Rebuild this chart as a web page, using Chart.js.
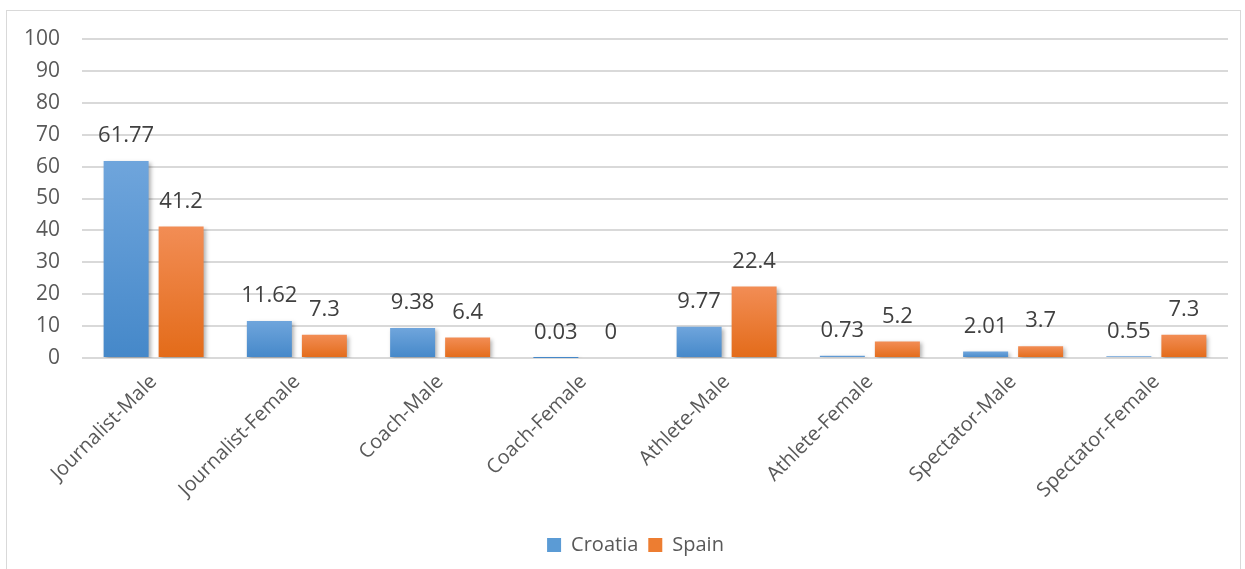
<!DOCTYPE html>
<html>
<head>
<meta charset="utf-8">
<script src="https://cdn.jsdelivr.net/npm/chart.js@4"></script>
<style>
  body { margin: 0; background: #fff; }
  #box {
    position: absolute; left: 6px; top: 10px;
    width: 1233px; height: 570px;
    border: 1px solid #d9d9d9; border-bottom: none;
  }
  #chart { display: block; }
</style>
</head>
<body>
<div id="box"><canvas id="chart" width="1233" height="558"></canvas></div>
<script>
const categories = ["Journalist-Male", "Journalist-Female", "Coach-Male", "Coach-Female",
    "Athlete-Male", "Athlete-Female", "Spectator-Male", "Spectator-Female"];
const croatia = [61.77, 11.62, 9.38, 0.03, 9.77, 0.73, 2.01, 0.55];
const spain = [41.2, 7.3, 6.4, 0, 22.4, 5.2, 3.7, 7.3];
const yTicks = [0, 10, 20, 30, 40, 50, 60, 70, 80, 90, 100];

const FONT = "'Open Sans', sans-serif";

// vertical gradient on each bar, lighter on top
function barGradient(top, bottom) {
    return (ctx) => {
        const chart = ctx.chart;
        const y = chart.scales.y;
        if (!y || ctx.parsed === undefined) return bottom;
        const y0 = y.getPixelForValue(0);
        const y1 = y.getPixelForValue(ctx.parsed.y);
        if (!isFinite(y1) || Math.abs(y0 - y1) < 1) return bottom;
        const g = chart.ctx.createLinearGradient(0, y1, 0, y0);
        g.addColorStop(0, top);
        g.addColorStop(1, bottom);
        return g;
    };
}

const valueLabels = {
    id: "valueLabels",
    afterDatasetsDraw(chart) {
        const ctx = chart.ctx;
        ctx.save();
        ctx.font = "22px " + FONT;
        ctx.fillStyle = "#404040";
        ctx.textAlign = "center";
        ctx.textBaseline = "middle";
        chart.data.datasets.forEach((ds, i) => {
            chart.getDatasetMeta(i).data.forEach((bar, j) => {
                ctx.fillText(String(ds.data[j]), bar.x, bar.y - 25);
            });
        });
        ctx.restore();
    }
};

const barShadow = {
    id: "barShadow",
    beforeDatasetsDraw(chart) {
        const ctx = chart.ctx;
        ctx.save();
        ctx.shadowColor = "rgba(0,0,0,0.3)";
        ctx.shadowBlur = 4;
        ctx.shadowOffsetX = 2;
        ctx.shadowOffsetY = 2;
    },
    afterDatasetsDraw(chart) {
        chart.ctx.restore();
    }
};

// legend sits a bit right of the canvas centre in the original
const legendShift = {
    id: "legendShift",
    afterLayout(chart) {
        chart.legend.left += 18;
        chart.legend.right += 18;
    }
};

new Chart(document.getElementById("chart"), {
    type: "bar",
    data: {
        labels: categories,
        datasets: [{
            label: "Croatia",
            data: croatia,
            backgroundColor: barGradient("#6fa5dc", "#4588c9"),
            categoryPercentage: 0.768,
            barPercentage: 0.818
        }, {
            label: "Spain",
            data: spain,
            backgroundColor: barGradient("#f28d55", "#e36b19"),
            categoryPercentage: 0.768,
            barPercentage: 0.818
        }]
    },
    options: {
        responsive: false,
        animation: false,
        layout: { padding: { top: 28, right: 12, left: 0, bottom: 4 } },
        scales: {
            x: {
                grid: { display: false },
                border: { display: false },
                ticks: {
                    font: { family: FONT, size: 20 },
                    color: "#595959",
                    maxRotation: 45,
                    minRotation: 45,
                    padding: 4
                },
                afterFit(s) { s.height = 167; }
            },
            y: {
                min: 0,
                max: 100,
                afterBuildTicks(s) { s.ticks = yTicks.map(v => ({ value: v })); },
                grid: { color: "#d9d9d9", lineWidth: 2, drawTicks: false },
                border: { display: false },
                ticks: {
                    font: { family: FONT, size: 21 },
                    color: "#595959",
                    padding: 22
                },
                afterFit(s) {
                    s.width = 75;
                    s.paddingTop = 0;
                    s.paddingBottom = 0;
                }
            }
        },
        plugins: {
            legend: {
                position: "bottom",
                labels: {
                    font: { family: FONT, size: 20 },
                    color: "#595959",
                    boxWidth: 14,
                    boxHeight: 14,
                    padding: 10,
                    generateLabels(chart) {
                        const solid = ["#5b9bd5", "#ed7d31"];
                        return chart.data.datasets.map((ds, i) => ({
                            text: ds.label,
                            fillStyle: solid[i],
                            strokeStyle: solid[i],
                            lineWidth: 0,
                            fontColor: "#595959",
                            datasetIndex: i,
                            hidden: false
                        }));
                    }
                }
            },
            tooltip: { enabled: false }
        }
    },
    plugins: [barShadow, valueLabels, legendShift]
});
</script>
</body>
</html>
